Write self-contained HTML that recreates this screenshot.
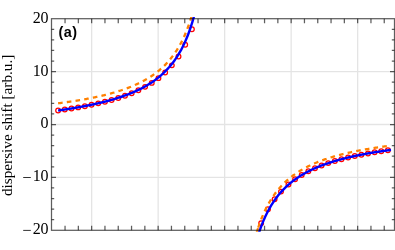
<!DOCTYPE html>
<html><head><meta charset="utf-8"><style>
html,body{margin:0;padding:0;background:#fff}
body{width:395px;height:250px;overflow:hidden;position:relative}
.tl{font-family:"Liberation Serif",serif;font-size:16px;letter-spacing:-0.3px;fill:#000}
.yl{font-family:"Liberation Serif",serif;font-size:15.25px;fill:#000}
.pa{font-family:"Liberation Sans",sans-serif;font-size:14.4px;font-weight:bold;fill:#000;letter-spacing:0.5px}
</style></head><body>
<svg width="395" height="250" viewBox="0 0 395 250" style="position:absolute;left:0;top:0;will-change:transform">
<defs><clipPath id="c"><rect x="51.50" y="17.00" width="343.00" height="214.70"/></clipPath></defs>
<path d="M91.65,18.70 V230.30 M158.15,18.70 V230.30 M224.65,18.70 V230.30 M291.15,18.70 V230.30 M357.65,18.70 V230.30 M51.50,71.60 H394.50 M51.50,124.50 H394.50 M51.50,177.40 H394.50" stroke="#000000" stroke-width="1.3" stroke-opacity="0.105" fill="none"/>
<g clip-path="url(#c)" fill="none">
<g stroke="#ff0000" stroke-width="1.25"><circle cx="58.10" cy="110.51" r="2.35"/><circle cx="64.79" cy="109.54" r="2.35"/><circle cx="71.48" cy="108.50" r="2.35"/><circle cx="78.17" cy="107.38" r="2.35"/><circle cx="84.86" cy="106.15" r="2.35"/><circle cx="91.55" cy="104.82" r="2.35"/><circle cx="98.24" cy="103.36" r="2.35"/><circle cx="104.93" cy="101.75" r="2.35"/><circle cx="111.62" cy="99.96" r="2.35"/><circle cx="118.31" cy="97.97" r="2.35"/><circle cx="125.00" cy="95.72" r="2.35"/><circle cx="131.69" cy="93.17" r="2.35"/><circle cx="138.38" cy="90.24" r="2.35"/><circle cx="145.07" cy="86.85" r="2.35"/><circle cx="151.76" cy="82.88" r="2.35"/><circle cx="158.45" cy="78.14" r="2.35"/><circle cx="165.14" cy="72.42" r="2.35"/><circle cx="171.83" cy="65.35" r="2.35"/><circle cx="178.52" cy="56.42" r="2.35"/><circle cx="185.21" cy="44.82" r="2.35"/><circle cx="191.90" cy="29.27" r="2.35"/><circle cx="387.90" cy="150.33" r="2.35"/><circle cx="381.27" cy="151.28" r="2.35"/><circle cx="374.64" cy="152.31" r="2.35"/><circle cx="368.01" cy="153.43" r="2.35"/><circle cx="361.38" cy="154.66" r="2.35"/><circle cx="354.75" cy="156.01" r="2.35"/><circle cx="348.12" cy="157.51" r="2.35"/><circle cx="341.49" cy="159.16" r="2.35"/><circle cx="334.86" cy="161.02" r="2.35"/><circle cx="328.23" cy="163.10" r="2.35"/><circle cx="321.60" cy="165.47" r="2.35"/><circle cx="314.97" cy="168.18" r="2.35"/><circle cx="308.34" cy="171.30" r="2.35"/><circle cx="301.71" cy="174.95" r="2.35"/><circle cx="295.08" cy="179.26" r="2.35"/><circle cx="288.45" cy="184.44" r="2.35"/><circle cx="281.00" cy="191.62" r="2.35"/><circle cx="274.60" cy="199.34" r="2.35"/><circle cx="268.00" cy="209.32" r="2.35"/><circle cx="261.15" cy="223.2" r="2.35"/></g>
<path d="M58.10,103.31 L58.84,103.22 L59.57,103.12 L60.31,103.02 L61.05,102.93 L61.78,102.83 L62.52,102.73 L63.26,102.63 L63.99,102.53 L64.73,102.43 L65.47,102.33 L66.20,102.22 L66.94,102.12 L67.68,102.01 L68.41,101.91 L69.15,101.80 L69.89,101.69 L70.62,101.58 L71.36,101.47 L72.10,101.36 L72.83,101.25 L73.57,101.13 L74.31,101.02 L75.04,100.90 L75.78,100.78 L76.52,100.67 L77.25,100.55 L77.99,100.43 L78.73,100.30 L79.46,100.18 L80.20,100.06 L80.94,99.93 L81.67,99.80 L82.41,99.68 L83.15,99.55 L83.88,99.41 L84.62,99.28 L85.36,99.15 L86.09,99.01 L86.83,98.88 L87.57,98.74 L88.30,98.60 L89.04,98.46 L89.78,98.31 L90.51,98.17 L91.25,98.02 L91.99,97.88 L92.72,97.73 L93.46,97.58 L94.20,97.42 L94.93,97.27 L95.67,97.11 L96.41,96.95 L97.14,96.79 L97.88,96.63 L98.62,96.47 L99.35,96.30 L100.09,96.14 L100.83,95.97 L101.56,95.80 L102.30,95.62 L103.04,95.45 L103.77,95.27 L104.51,95.09 L105.25,94.91 L105.98,94.72 L106.72,94.53 L107.46,94.35 L108.19,94.15 L108.93,93.96 L109.67,93.76 L110.40,93.56 L111.14,93.36 L111.88,93.16 L112.61,92.95 L113.35,92.74 L114.09,92.53 L114.82,92.31 L115.56,92.09 L116.30,91.87 L117.03,91.65 L117.77,91.42 L118.51,91.19 L119.24,90.96 L119.98,90.72 L120.72,90.48 L121.45,90.23 L122.19,89.99 L122.93,89.74 L123.66,89.48 L124.40,89.22 L125.14,88.96 L125.87,88.69 L126.61,88.42 L127.35,88.15 L128.08,87.87 L128.82,87.59 L129.56,87.30 L130.29,87.01 L131.03,86.71 L131.77,86.41 L132.51,86.10 L133.24,85.79 L133.98,85.47 L134.72,85.15 L135.45,84.82 L136.19,84.49 L136.93,84.15 L137.66,83.81 L138.40,83.46 L139.14,83.11 L139.87,82.74 L140.61,82.37 L141.35,82.00 L142.08,81.62 L142.82,81.23 L143.56,80.83 L144.29,80.43 L145.03,80.02 L145.77,79.60 L146.50,79.18 L147.24,78.74 L147.98,78.30 L148.71,77.85 L149.45,77.39 L150.19,76.92 L150.92,76.44 L151.66,75.95 L152.40,75.45 L153.13,74.94 L153.87,74.42 L154.61,73.89 L155.34,73.35 L156.08,72.80 L156.82,72.23 L157.55,71.65 L158.29,71.06 L159.03,70.46 L159.76,69.84 L160.50,69.20 L161.24,68.56 L161.97,67.89 L162.71,67.21 L163.45,66.52 L164.18,65.81 L164.92,65.08 L165.66,64.33 L166.39,63.56 L167.13,62.77 L167.87,61.96 L168.60,61.13 L169.34,60.28 L170.08,59.41 L170.81,58.51 L171.55,57.58 L172.29,56.63 L173.02,55.65 L173.76,54.64 L174.50,53.61 L175.23,52.54 L175.97,51.44 L176.71,50.30 L177.44,49.13 L178.18,47.92 L178.92,46.67 L179.65,45.39 L180.39,44.05 L181.13,42.67 L181.86,41.25 L182.60,39.77 L183.34,38.24 L184.07,36.65 L184.81,35.01 L185.55,33.30 L186.28,31.52 L187.02,29.68 L187.76,27.75 L188.49,25.75 L189.23,23.67 L189.97,21.49 L190.70,19.22 L191.44,16.85 L192.18,14.37 L192.91,11.77 L193.65,9.04 L194.39,6.18 L195.12,3.17 L195.86,0.01 L196.60,-3.32 L197.33,-6.84 L198.07,-10.55 L198.81,-14.48 L199.54,-18.65 L200.28,-23.07 L201.02,-27.78 L201.75,-32.79 L202.49,-38.15 L203.23,-43.89 L203.96,-50.04 L204.70,-56.66" stroke="#ff8000" stroke-width="2.3" stroke-dasharray="4.6 4.2"/>
<path d="M257.94,228.51 L258.61,226.49 L259.28,224.55 L259.95,222.69 L260.61,220.89 L261.28,219.15 L261.95,217.48 L262.62,215.87 L263.29,214.31 L263.96,212.80 L264.63,211.34 L265.29,209.93 L265.96,208.57 L266.63,207.25 L267.30,205.96 L267.97,204.72 L268.64,203.52 L269.31,202.35 L269.98,201.21 L270.64,200.11 L271.31,199.04 L271.98,198.00 L272.65,196.99 L273.32,196.00 L273.99,195.04 L274.66,194.11 L275.32,193.20 L275.99,192.31 L276.66,191.45 L277.33,190.61 L278.00,189.79 L278.67,188.99 L279.34,188.21 L280.01,187.45 L280.67,186.70 L281.34,185.97 L282.01,185.26 L282.68,184.57 L283.35,183.89 L284.02,183.23 L284.69,182.58 L285.35,181.95 L286.02,181.33 L286.69,180.72 L287.36,180.13 L288.03,179.54 L288.70,178.97 L289.37,178.41 L290.03,177.87 L290.70,177.33 L291.37,176.81 L292.04,176.29 L292.71,175.79 L293.38,175.29 L294.05,174.81 L294.72,174.33 L295.38,173.86 L296.05,173.40 L296.72,172.95 L297.39,172.51 L298.06,172.08 L298.73,171.65 L299.40,171.23 L300.06,170.82 L300.73,170.42 L301.40,170.02 L302.07,169.63 L302.74,169.24 L303.41,168.87 L304.08,168.50 L304.74,168.13 L305.41,167.77 L306.08,167.42 L306.75,167.07 L307.42,166.73 L308.09,166.39 L308.76,166.06 L309.43,165.74 L310.09,165.42 L310.76,165.10 L311.43,164.79 L312.10,164.48 L312.77,164.18 L313.44,163.89 L314.11,163.59 L314.77,163.30 L315.44,163.02 L316.11,162.74 L316.78,162.46 L317.45,162.19 L318.12,161.92 L318.79,161.66 L319.46,161.40 L320.12,161.14 L320.79,160.89 L321.46,160.64 L322.13,160.39 L322.80,160.15 L323.47,159.91 L324.14,159.67 L324.80,159.44 L325.47,159.21 L326.14,158.98 L326.81,158.76 L327.48,158.53 L328.15,158.32 L328.82,158.10 L329.48,157.89 L330.15,157.68 L330.82,157.47 L331.49,157.26 L332.16,157.06 L332.83,156.86 L333.50,156.66 L334.17,156.47 L334.83,156.27 L335.50,156.08 L336.17,155.89 L336.84,155.71 L337.51,155.52 L338.18,155.34 L338.85,155.16 L339.51,154.98 L340.18,154.81 L340.85,154.64 L341.52,154.46 L342.19,154.29 L342.86,154.13 L343.53,153.96 L344.19,153.80 L344.86,153.63 L345.53,153.47 L346.20,153.32 L346.87,153.16 L347.54,153.00 L348.21,152.85 L348.88,152.70 L349.54,152.55 L350.21,152.40 L350.88,152.25 L351.55,152.11 L352.22,151.96 L352.89,151.82 L353.56,151.68 L354.22,151.54 L354.89,151.40 L355.56,151.26 L356.23,151.13 L356.90,150.99 L357.57,150.86 L358.24,150.73 L358.91,150.60 L359.57,150.47 L360.24,150.34 L360.91,150.22 L361.58,150.09 L362.25,149.97 L362.92,149.84 L363.59,149.72 L364.25,149.60 L364.92,149.48 L365.59,149.37 L366.26,149.25 L366.93,149.13 L367.60,149.02 L368.27,148.90 L368.93,148.79 L369.60,148.68 L370.27,148.57 L370.94,148.46 L371.61,148.35 L372.28,148.24 L372.95,148.14 L373.62,148.03 L374.28,147.93 L374.95,147.82 L375.62,147.72 L376.29,147.62 L376.96,147.52 L377.63,147.42 L378.30,147.32 L378.96,147.22 L379.63,147.12 L380.30,147.02 L380.97,146.93 L381.64,146.83 L382.31,146.74 L382.98,146.64 L383.64,146.55 L384.31,146.46 L384.98,146.37 L385.65,146.28 L386.32,146.19 L386.99,146.10 L387.66,146.01 L388.33,145.92 L388.99,145.84 L389.66,145.75 L390.33,145.66 L391.00,145.58" stroke="#ff8000" stroke-width="2.3" stroke-dasharray="4.6 4.2" stroke-dashoffset="-0.9"/>
<path d="M256.44,233.35 L256.52,233.05 L256.61,232.76 L256.70,232.47 L256.79,232.18 L256.87,231.89 L256.96,231.61 L257.05,231.32 L257.14,231.04 L257.22,230.76 L257.31,230.48 L257.40,230.20 L257.49,229.92 L257.57,229.65 L257.66,229.37 L257.75,229.10 L257.84,228.83 L257.92,228.56 L258.01,228.29 L258.10,228.02" stroke="#ff8000" stroke-width="2.3"/>
<path d="M58.10,110.47 L58.84,110.37 L59.57,110.26 L60.31,110.16 L61.05,110.05 L61.78,109.94 L62.52,109.83 L63.26,109.72 L63.99,109.61 L64.73,109.50 L65.47,109.39 L66.20,109.28 L66.94,109.17 L67.68,109.05 L68.41,108.94 L69.15,108.82 L69.89,108.70 L70.62,108.58 L71.36,108.47 L72.10,108.35 L72.83,108.22 L73.57,108.10 L74.31,107.98 L75.04,107.85 L75.78,107.73 L76.52,107.60 L77.25,107.47 L77.99,107.34 L78.73,107.21 L79.46,107.08 L80.20,106.95 L80.94,106.82 L81.67,106.68 L82.41,106.54 L83.15,106.41 L83.88,106.27 L84.62,106.13 L85.36,105.98 L86.09,105.84 L86.83,105.70 L87.57,105.55 L88.30,105.40 L89.04,105.25 L89.78,105.10 L90.51,104.95 L91.25,104.80 L91.99,104.64 L92.72,104.49 L93.46,104.33 L94.20,104.17 L94.93,104.01 L95.67,103.84 L96.41,103.68 L97.14,103.51 L97.88,103.34 L98.62,103.17 L99.35,103.00 L100.09,102.83 L100.83,102.65 L101.56,102.47 L102.30,102.29 L103.04,102.11 L103.77,101.93 L104.51,101.74 L105.25,101.55 L105.98,101.36 L106.72,101.17 L107.46,100.97 L108.19,100.77 L108.93,100.57 L109.67,100.37 L110.40,100.17 L111.14,99.96 L111.88,99.75 L112.61,99.54 L113.35,99.32 L114.09,99.10 L114.82,98.88 L115.56,98.66 L116.30,98.43 L117.03,98.20 L117.77,97.97 L118.51,97.73 L119.24,97.50 L119.98,97.25 L120.72,97.01 L121.45,96.76 L122.19,96.51 L122.93,96.25 L123.66,95.99 L124.40,95.73 L125.14,95.46 L125.87,95.19 L126.61,94.92 L127.35,94.64 L128.08,94.36 L128.82,94.07 L129.56,93.78 L130.29,93.49 L131.03,93.19 L131.77,92.88 L132.51,92.57 L133.24,92.26 L133.98,91.94 L134.72,91.62 L135.45,91.29 L136.19,90.95 L136.93,90.61 L137.66,90.27 L138.40,89.92 L139.14,89.56 L139.87,89.20 L140.61,88.83 L141.35,88.45 L142.08,88.07 L142.82,87.68 L143.56,87.29 L144.29,86.88 L145.03,86.47 L145.77,86.06 L146.50,85.63 L147.24,85.20 L147.98,84.76 L148.71,84.31 L149.45,83.85 L150.19,83.38 L150.92,82.91 L151.66,82.42 L152.40,81.93 L153.13,81.42 L153.87,80.91 L154.61,80.38 L155.34,79.84 L156.08,79.29 L156.82,78.73 L157.55,78.16 L158.29,77.58 L159.03,76.98 L159.76,76.37 L160.50,75.74 L161.24,75.11 L161.97,74.45 L162.71,73.78 L163.45,73.10 L164.18,72.40 L164.92,71.68 L165.66,70.94 L166.39,70.19 L167.13,69.41 L167.87,68.62 L168.60,67.81 L169.34,66.97 L170.08,66.12 L170.81,65.24 L171.55,64.33 L172.29,63.40 L173.02,62.45 L173.76,61.46 L174.50,60.45 L175.23,59.41 L175.97,58.34 L176.71,57.23 L177.44,56.09 L178.18,54.92 L178.92,53.71 L179.65,52.45 L180.39,51.16 L181.13,49.83 L181.86,48.44 L182.60,47.02 L183.34,45.54 L184.07,44.00 L184.81,42.41 L185.55,40.77 L186.28,39.06 L187.02,37.28 L187.76,35.43 L188.49,33.51 L189.23,31.51 L189.97,29.43 L190.70,27.25 L191.44,24.98 L192.18,22.61 L192.91,20.13 L193.65,17.54 L194.39,14.81 L195.12,11.96 L195.86,8.96 L196.60,5.80 L197.33,2.48 L198.07,-1.03 L198.81,-4.73 L199.54,-8.65 L200.28,-12.80 L201.02,-17.21 L201.75,-21.90 L202.49,-26.89 L203.23,-32.23 L203.96,-37.94 L204.70,-44.06" stroke="#0000ff" stroke-width="2.4"/>
<path d="M244.60,308.35 L245.34,301.91 L246.07,295.91 L246.81,290.32 L247.54,285.09 L248.28,280.19 L249.01,275.58 L249.75,271.25 L250.49,267.17 L251.22,263.32 L251.96,259.68 L252.69,256.22 L253.43,252.95 L254.16,249.84 L254.90,246.89 L255.64,244.07 L256.37,241.39 L257.11,238.83 L257.84,236.38 L258.58,234.04 L259.31,231.80 L260.05,229.65 L260.78,227.59 L261.52,225.62 L262.26,223.72 L262.99,221.89 L263.73,220.14 L264.46,218.44 L265.20,216.81 L265.93,215.24 L266.67,213.73 L267.41,212.26 L268.14,210.85 L268.88,209.48 L269.61,208.16 L270.35,206.88 L271.08,205.64 L271.82,204.44 L272.56,203.28 L273.29,202.15 L274.03,201.05 L274.76,199.99 L275.50,198.96 L276.23,197.96 L276.97,196.99 L277.71,196.04 L278.44,195.12 L279.18,194.22 L279.91,193.35 L280.65,192.50 L281.38,191.67 L282.12,190.87 L282.86,190.08 L283.59,189.31 L284.33,188.57 L285.06,187.84 L285.80,187.13 L286.53,186.43 L287.27,185.75 L288.01,185.09 L288.74,184.44 L289.48,183.81 L290.21,183.19 L290.95,182.59 L291.68,181.99 L292.42,181.41 L293.15,180.85 L293.89,180.29 L294.63,179.75 L295.36,179.22 L296.10,178.70 L296.83,178.19 L297.57,177.69 L298.30,177.20 L299.04,176.72 L299.78,176.25 L300.51,175.78 L301.25,175.33 L301.98,174.89 L302.72,174.45 L303.45,174.02 L304.19,173.60 L304.93,173.19 L305.66,172.78 L306.40,172.38 L307.13,171.99 L307.87,171.61 L308.60,171.23 L309.34,170.86 L310.08,170.50 L310.81,170.14 L311.55,169.79 L312.28,169.44 L313.02,169.10 L313.75,168.76 L314.49,168.43 L315.23,168.11 L315.96,167.79 L316.70,167.48 L317.43,167.17 L318.17,166.86 L318.90,166.56 L319.64,166.27 L320.37,165.98 L321.11,165.69 L321.85,165.41 L322.58,165.13 L323.32,164.86 L324.05,164.59 L324.79,164.32 L325.52,164.06 L326.26,163.80 L327.00,163.55 L327.73,163.30 L328.47,163.05 L329.20,162.80 L329.94,162.56 L330.67,162.33 L331.41,162.09 L332.15,161.86 L332.88,161.63 L333.62,161.41 L334.35,161.19 L335.09,160.97 L335.82,160.75 L336.56,160.54 L337.30,160.33 L338.03,160.12 L338.77,159.91 L339.50,159.71 L340.24,159.51 L340.97,159.31 L341.71,159.12 L342.45,158.93 L343.18,158.74 L343.92,158.55 L344.65,158.36 L345.39,158.18 L346.12,158.00 L346.86,157.82 L347.59,157.64 L348.33,157.46 L349.07,157.29 L349.80,157.12 L350.54,156.95 L351.27,156.78 L352.01,156.62 L352.74,156.46 L353.48,156.29 L354.22,156.13 L354.95,155.98 L355.69,155.82 L356.42,155.67 L357.16,155.51 L357.89,155.36 L358.63,155.21 L359.37,155.06 L360.10,154.92 L360.84,154.77 L361.57,154.63 L362.31,154.49 L363.04,154.35 L363.78,154.21 L364.52,154.07 L365.25,153.93 L365.99,153.80 L366.72,153.67 L367.46,153.53 L368.19,153.40 L368.93,153.27 L369.67,153.15 L370.40,153.02 L371.14,152.89 L371.87,152.77 L372.61,152.65 L373.34,152.52 L374.08,152.40 L374.82,152.28 L375.55,152.17 L376.29,152.05 L377.02,151.93 L377.76,151.82 L378.49,151.70 L379.23,151.59 L379.96,151.48 L380.70,151.37 L381.44,151.26 L382.17,151.15 L382.91,151.04 L383.64,150.93 L384.38,150.83 L385.11,150.72 L385.85,150.62 L386.59,150.51 L387.32,150.41 L388.06,150.31 L388.79,150.21 L389.53,150.11 L390.26,150.01 L391.00,149.91" stroke="#0000ff" stroke-width="2.4"/>
</g>
<path d="M65.05,18.70 v4.5 M65.05,230.30 v-4.5 M78.35,18.70 v4.5 M78.35,230.30 v-4.5 M91.65,18.70 v4.5 M91.65,230.30 v-4.5 M104.95,18.70 v4.5 M104.95,230.30 v-4.5 M118.25,18.70 v4.5 M118.25,230.30 v-4.5 M131.55,18.70 v4.5 M131.55,230.30 v-4.5 M144.85,18.70 v4.5 M144.85,230.30 v-4.5 M158.15,18.70 v4.5 M158.15,230.30 v-4.5 M171.45,18.70 v4.5 M171.45,230.30 v-4.5 M184.75,18.70 v4.5 M184.75,230.30 v-4.5 M198.05,18.70 v4.5 M198.05,230.30 v-4.5 M211.35,18.70 v4.5 M211.35,230.30 v-4.5 M224.65,18.70 v4.5 M224.65,230.30 v-4.5 M237.95,18.70 v4.5 M237.95,230.30 v-4.5 M251.25,18.70 v4.5 M251.25,230.30 v-4.5 M264.55,18.70 v4.5 M264.55,230.30 v-4.5 M277.85,18.70 v4.5 M277.85,230.30 v-4.5 M291.15,18.70 v4.5 M291.15,230.30 v-4.5 M304.45,18.70 v4.5 M304.45,230.30 v-4.5 M317.75,18.70 v4.5 M317.75,230.30 v-4.5 M331.05,18.70 v4.5 M331.05,230.30 v-4.5 M344.35,18.70 v4.5 M344.35,230.30 v-4.5 M357.65,18.70 v4.5 M357.65,230.30 v-4.5 M370.95,18.70 v4.5 M370.95,230.30 v-4.5 M384.25,18.70 v4.5 M384.25,230.30 v-4.5 M51.50,29.28 h2.7 M394.50,29.28 h-2.7 M51.50,39.86 h2.7 M394.50,39.86 h-2.7 M51.50,50.44 h2.7 M394.50,50.44 h-2.7 M51.50,61.02 h2.7 M394.50,61.02 h-2.7 M51.50,71.60 h4.5 M394.50,71.60 h-4.5 M51.50,82.18 h2.7 M394.50,82.18 h-2.7 M51.50,92.76 h2.7 M394.50,92.76 h-2.7 M51.50,103.34 h2.7 M394.50,103.34 h-2.7 M51.50,113.92 h2.7 M394.50,113.92 h-2.7 M51.50,124.50 h4.5 M394.50,124.50 h-4.5 M51.50,135.08 h2.7 M394.50,135.08 h-2.7 M51.50,145.66 h2.7 M394.50,145.66 h-2.7 M51.50,156.24 h2.7 M394.50,156.24 h-2.7 M51.50,166.82 h2.7 M394.50,166.82 h-2.7 M51.50,177.40 h4.5 M394.50,177.40 h-4.5 M51.50,187.98 h2.7 M394.50,187.98 h-2.7 M51.50,198.56 h2.7 M394.50,198.56 h-2.7 M51.50,209.14 h2.7 M394.50,209.14 h-2.7 M51.50,219.72 h2.7 M394.50,219.72 h-2.7" stroke="#000000" stroke-width="1.25" stroke-opacity="0.63" fill="none"/>
<rect x="51.50" y="18.70" width="343.00" height="211.60" stroke="#000000" stroke-width="1.25" stroke-opacity="0.63" fill="none"/>
<text x="48.2" y="22.60" text-anchor="end" class="tl">20</text>
<text x="48.2" y="75.50" text-anchor="end" class="tl">10</text>
<text x="48.2" y="128.40" text-anchor="end" class="tl">0</text>
<text x="48.2" y="181.30" text-anchor="end" class="tl">10</text>
<path d="M23.2,177.50 H30.8" stroke="#000" stroke-width="0.95" stroke-opacity="0.85" fill="none"/>
<text x="48.2" y="234.20" text-anchor="end" class="tl">20</text>
<path d="M23.2,230.40 H30.8" stroke="#000" stroke-width="0.95" stroke-opacity="0.85" fill="none"/>
<text class="yl" transform="translate(11.8,125.4) rotate(-90)" text-anchor="middle">dispersive shift [arb.u.]</text>
<text class="pa" x="58.4" y="36.8">(a)</text>
</svg>
</body></html>
